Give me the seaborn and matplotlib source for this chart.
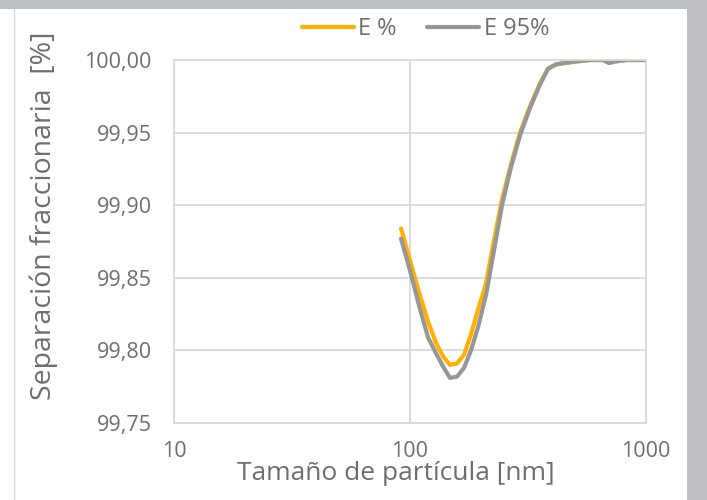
import seaborn as sns
import matplotlib.pyplot as plt
import matplotlib.ticker as mticker
from matplotlib.patches import Rectangle
from matplotlib.lines import Line2D
import pandas as pd

# particle size [nm] and fractional separation [%]
size_nm = [91.6, 100, 109.2, 119.2, 128.9, 138, 147.7, 158.2, 169.4, 181.3, 194.2,
           209.9, 227, 245.4, 267.8, 292.5, 322.4, 355.5, 384.5, 415.6, 458, 505,
           579, 657.6, 697, 739, 830, 1000]
e_pct = [99.884, 99.862, 99.840, 99.820, 99.805, 99.796, 99.790, 99.791, 99.797,
         99.811, 99.828, 99.846, 99.876, 99.904, 99.928, 99.950, 99.968, 99.984,
         99.994, 99.997, 99.998, 99.999, 100.000, 100.000, 99.998, 99.999,
         100.000, 100.000]
e_95 = [99.877, 99.855, 99.831, 99.809, 99.798, 99.789, 99.781, 99.782, 99.788,
        99.800, 99.816, 99.838, 99.869, 99.900, 99.926, 99.948, 99.967, 99.983,
        99.994, 99.997, 99.998, 99.999, 100.000, 100.000, 99.998, 99.999,
        100.000, 100.000]
series = ["E %", "E 95%"]
colors = ["#FFB000", "#979797"]

df = pd.concat([
    pd.DataFrame({"size": size_nm, "sep": e_pct, "serie": series[0]}),
    pd.DataFrame({"size": size_nm, "sep": e_95, "serie": series[1]}),
])

sns.set_style("white")
plt.rcParams['font.family'] = ['Open Sans', 'DejaVu Sans']
txt = "#6E6E6E"

fig = plt.figure(figsize=(7.07, 5), dpi=100)
fig.patch.set_facecolor("#BEBFC3")
fig.patches.append(Rectangle((0, 0), 687 / 707, 491 / 500, transform=fig.transFigure,
                             facecolor="white", edgecolor="none", zorder=-10))
fig.lines.append(Line2D([14 / 707, 14 / 707], [0, 491 / 500], transform=fig.transFigure,
                        color="#D9D9D9", lw=1, zorder=-5))

ax = fig.add_axes([174 / 707, 77 / 500, 472 / 707, 363 / 500])
sns.lineplot(data=df, x="size", y="sep", hue="serie", palette=colors,
             linewidth=3, ax=ax, legend=False)

ax.set_xscale("log")
ax.set_xlim(10, 1000)
ax.set_ylim(99.75, 100.0)
ax.set_xticks([10, 100, 1000])
ax.xaxis.set_major_formatter(mticker.FuncFormatter(lambda v, p: f"{v:g}"))
ax.xaxis.set_minor_locator(mticker.NullLocator())
ax.set_yticks([99.75, 99.80, 99.85, 99.90, 99.95, 100.0])
ax.yaxis.set_major_formatter(mticker.FuncFormatter(lambda v, p: f"{v:.2f}".replace(".", ",")))
ax.grid(True, color="#D9D9D9", lw=1.3)
ax.set_axisbelow(True)
for s in ax.spines.values():
    s.set_color("#D9D9D9")
    s.set_linewidth(1.3)
ax.tick_params(axis="y", length=0, pad=16, labelsize=15.5, labelcolor=txt)
ax.tick_params(axis="x", length=0, pad=13, labelsize=15.5, labelcolor=txt)
ax.set_xlabel("Tamaño de partícula [nm]", fontsize=19, color=txt)
ax.set_ylabel("Separación fraccionaria  [%]", fontsize=20.5, color=txt)
ax.xaxis.set_label_coords(0.470, -0.105)
ax.yaxis.set_label_coords(-0.245, 0.57)

handles = [Line2D([], [], color=c, lw=3) for c in colors]
fig.legend(handles, series, loc="center", bbox_to_anchor=(0.602, 0.942), ncol=2,
           frameon=False, fontsize=17, labelcolor=txt, handlelength=2.2,
           handletextpad=0.2, columnspacing=1.3)

fig.savefig("out.png", dpi=100, facecolor=fig.get_facecolor())
